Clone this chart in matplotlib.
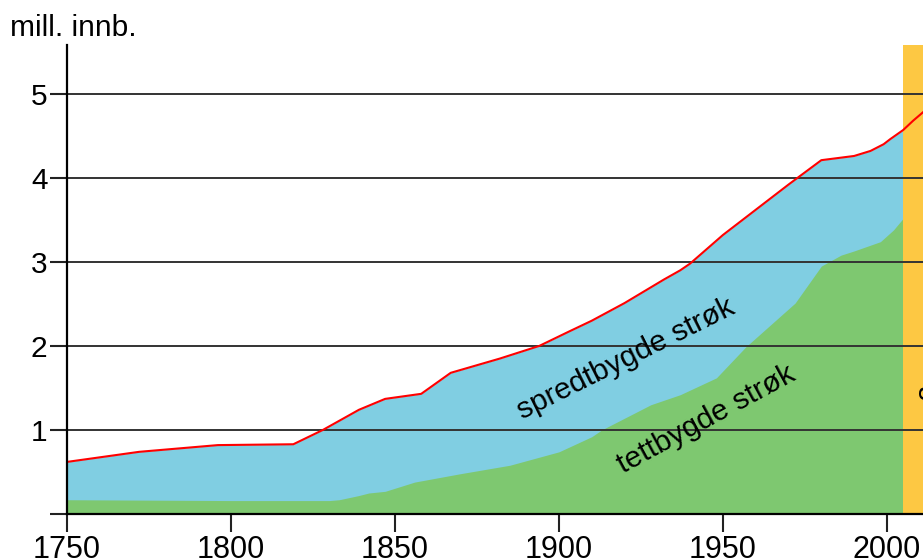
import matplotlib
matplotlib.use("Agg")
import matplotlib.pyplot as plt

plt.rcParams["font.family"] = ["Liberation Sans", "DejaVu Sans"]

# total population (red line), mill.
total_years = [1750, 1772, 1796, 1819, 1828, 1839, 1847, 1858, 1867, 1882, 1894,
               1903, 1910, 1920, 1932, 1937, 1940, 1950, 1960, 1970, 1980, 1986,
               1990, 1995, 1999, 2001, 2005, 2008, 2011]
total = [0.62, 0.74, 0.82, 0.83, 1.00, 1.24, 1.37, 1.43, 1.68, 1.85, 2.00,
         2.17, 2.30, 2.51, 2.79, 2.90, 2.98, 3.32, 3.62, 3.92, 4.21, 4.24,
         4.26, 4.32, 4.40, 4.46, 4.57, 4.68, 4.78]

# tettbygde strøk (green area), mill.
urban_years = [1750, 1800, 1830, 1833, 1839, 1842, 1847, 1856, 1870, 1885, 1900,
               1910, 1913, 1928, 1937, 1948, 1957, 1972, 1980, 1986, 1990, 1998,
               2002, 2005]
urban = [0.17, 0.16, 0.16, 0.17, 0.22, 0.25, 0.27, 0.38, 0.48, 0.58, 0.74,
         0.92, 1.00, 1.30, 1.42, 1.62, 1.99, 2.51, 2.95, 3.08, 3.13, 3.24,
         3.38, 3.52]

data_end = 2005      # last year with urban/rural split
xmax = 2011

fig = plt.figure(figsize=(9.23, 5.6), dpi=100)
ax = fig.add_axes([0.0726, 0.0821, 1 - 0.0726, 0.8375])

# blue area follows the total line up to data_end
blue_x = [y for y in total_years if y < data_end] + [data_end]
blue_y = [v for y, v in zip(total_years, total) if y < data_end] + [total[total_years.index(data_end)]]
ax.fill_between(blue_x, 0, blue_y, color="#80cee2", lw=0, zorder=1)
ax.fill_between(urban_years, 0, urban, color="#7ec870", lw=0, zorder=2)
ax.axvspan(data_end, xmax, color="#fdc843", lw=0, zorder=2)

for v in [1, 2, 3, 4, 5]:
    ax.axhline(v, color="#333333", lw=1.4, zorder=3)

ax.plot(total_years, total, color="#ff0000", lw=1.5, zorder=4)

ax.text(1920.5, 1.84, "spredtbygde strøk", rotation=26.5, fontsize=21.5,
        ha="center", va="center", zorder=5)
ax.text(1945, 1.12, "tettbygde strøk", rotation=28.5, fontsize=21.5,
        ha="center", va="center", zorder=5)
ax.text(2009.4, 3.2, "framskriving", rotation=270, fontsize=21,
        ha="left", va="top", zorder=5)

ax.set_xlim(1750, xmax)
ax.set_ylim(0, 5.58)
ax.set_xticks([1750, 1800, 1850, 1900, 1950, 2000])
ax.set_yticks([0, 1, 2, 3, 4, 5])
ax.set_yticklabels(["", "1", "2", "3", "4", "5"])
ax.tick_params(axis="both", direction="out", length=12, width=1.5, color="#222222")
ax.tick_params(axis="x", length=13, pad=2, labelsize=22)
ax.tick_params(axis="y", pad=2, labelsize=21.5)

for s in ["top", "right"]:
    ax.spines[s].set_visible(False)
for s in ["left", "bottom"]:
    ax.spines[s].set_linewidth(1.6)
    ax.spines[s].set_zorder(6)

fig.text(0.011, 0.95, "mill. innb.", fontsize=21.5, ha="left", va="center")

fig.savefig("out.png", dpi=100)
